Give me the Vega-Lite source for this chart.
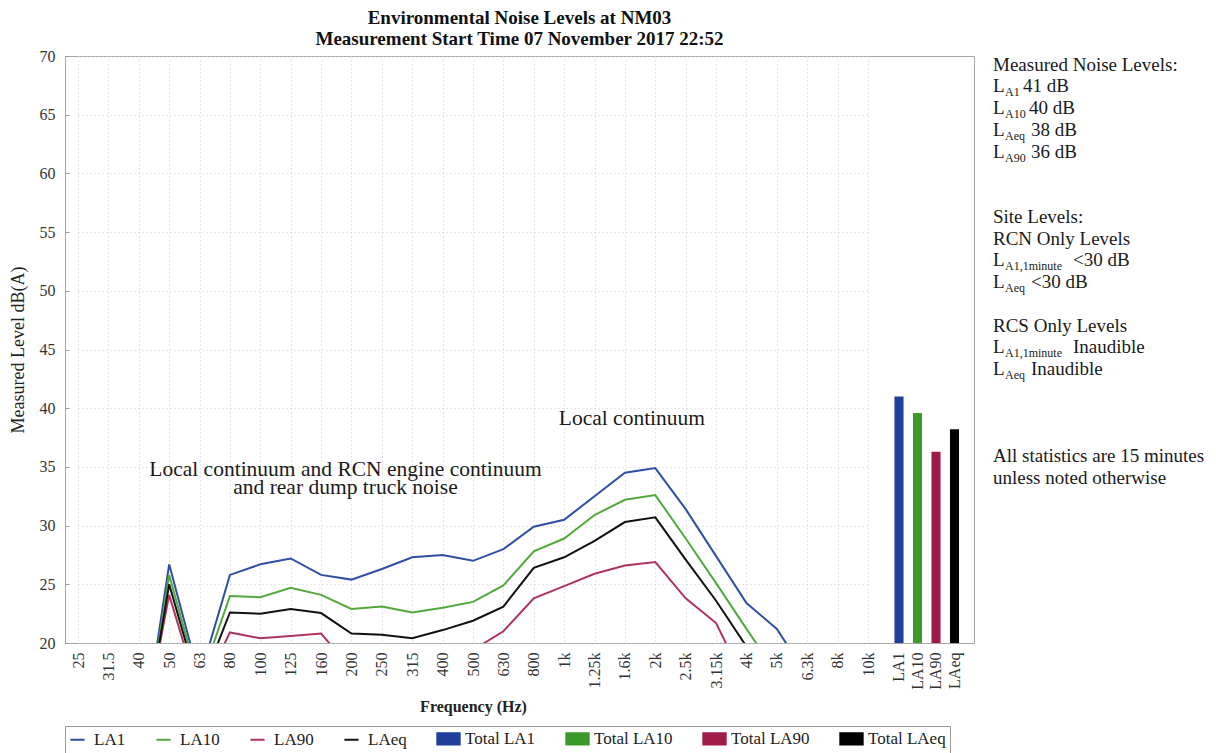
{
  "$schema": "https://vega.github.io/schema/vega-lite/v6.json",
  "background": "white",
  "padding": {"left": 8, "top": 8, "right": 0, "bottom": 0},
  "config": {
    "font": "Liberation Serif",
    "view": {"stroke": "#a6a6a6"},
    "concat": {"spacing": 18},
    "axis": {"labelFont": "Liberation Serif", "titleFont": "Liberation Serif", "labelColor": "#333333", "titleColor": "#222222", "domainColor": "#a6a6a6"},
    "legend": {"labelFont": "Liberation Serif"}
  },
  "datasets": {
    "lines": [
      {"band":"25","series":"LA1","level":10},{"band":"31.5","series":"LA1","level":9.5},{"band":"40","series":"LA1","level":9.5},{"band":"50","series":"LA1","level":26.7},{"band":"63","series":"LA1","level":17},{"band":"80","series":"LA1","level":25.8},{"band":"100","series":"LA1","level":26.7},{"band":"125","series":"LA1","level":27.2},{"band":"160","series":"LA1","level":25.8},{"band":"200","series":"LA1","level":25.4},{"band":"250","series":"LA1","level":26.3},{"band":"315","series":"LA1","level":27.3},{"band":"400","series":"LA1","level":27.5},{"band":"500","series":"LA1","level":27.0},{"band":"630","series":"LA1","level":28.0},{"band":"800","series":"LA1","level":29.9},{"band":"1k","series":"LA1","level":30.5},{"band":"1.25k","series":"LA1","level":32.5},{"band":"1.6k","series":"LA1","level":34.5},{"band":"2k","series":"LA1","level":34.9},{"band":"2.5k","series":"LA1","level":31.4},{"band":"3.15k","series":"LA1","level":27.4},{"band":"4k","series":"LA1","level":23.4},{"band":"5k","series":"LA1","level":21.2},{"band":"6.3k","series":"LA1","level":17.2},{"band":"8k","series":"LA1","level":15.5},{"band":"10k","series":"LA1","level":14},
      {"band":"25","series":"LA10","level":9.5},{"band":"31.5","series":"LA10","level":9},{"band":"40","series":"LA10","level":9},{"band":"50","series":"LA10","level":25.8},{"band":"63","series":"LA10","level":16.5},{"band":"80","series":"LA10","level":24.0},{"band":"100","series":"LA10","level":23.9},{"band":"125","series":"LA10","level":24.7},{"band":"160","series":"LA10","level":24.1},{"band":"200","series":"LA10","level":22.9},{"band":"250","series":"LA10","level":23.1},{"band":"315","series":"LA10","level":22.6},{"band":"400","series":"LA10","level":23.0},{"band":"500","series":"LA10","level":23.5},{"band":"630","series":"LA10","level":24.9},{"band":"800","series":"LA10","level":27.8},{"band":"1k","series":"LA10","level":28.9},{"band":"1.25k","series":"LA10","level":30.9},{"band":"1.6k","series":"LA10","level":32.2},{"band":"2k","series":"LA10","level":32.6},{"band":"2.5k","series":"LA10","level":28.9},{"band":"3.15k","series":"LA10","level":25.1},{"band":"4k","series":"LA10","level":21.2},{"band":"5k","series":"LA10","level":17.4},{"band":"6.3k","series":"LA10","level":15},{"band":"8k","series":"LA10","level":13.5},{"band":"10k","series":"LA10","level":12},
      {"band":"25","series":"LA90","level":9},{"band":"31.5","series":"LA90","level":8.5},{"band":"40","series":"LA90","level":10.5},{"band":"50","series":"LA90","level":24.1},{"band":"63","series":"LA90","level":15.5},{"band":"80","series":"LA90","level":20.9},{"band":"100","series":"LA90","level":20.4},{"band":"125","series":"LA90","level":20.6},{"band":"160","series":"LA90","level":20.8},{"band":"200","series":"LA90","level":17.8},{"band":"250","series":"LA90","level":17},{"band":"315","series":"LA90","level":17},{"band":"400","series":"LA90","level":18},{"band":"500","series":"LA90","level":19.4},{"band":"630","series":"LA90","level":21.0},{"band":"800","series":"LA90","level":23.8},{"band":"1k","series":"LA90","level":24.85},{"band":"1.25k","series":"LA90","level":25.9},{"band":"1.6k","series":"LA90","level":26.6},{"band":"2k","series":"LA90","level":26.9},{"band":"2.5k","series":"LA90","level":23.8},{"band":"3.15k","series":"LA90","level":21.7},{"band":"4k","series":"LA90","level":16.4},{"band":"5k","series":"LA90","level":14},{"band":"6.3k","series":"LA90","level":12.5},{"band":"8k","series":"LA90","level":11},{"band":"10k","series":"LA90","level":10},
      {"band":"25","series":"LAeq","level":9},{"band":"31.5","series":"LAeq","level":9},{"band":"40","series":"LAeq","level":9.5},{"band":"50","series":"LAeq","level":25.0},{"band":"63","series":"LAeq","level":16},{"band":"80","series":"LAeq","level":22.6},{"band":"100","series":"LAeq","level":22.5},{"band":"125","series":"LAeq","level":22.9},{"band":"160","series":"LAeq","level":22.55},{"band":"200","series":"LAeq","level":20.8},{"band":"250","series":"LAeq","level":20.7},{"band":"315","series":"LAeq","level":20.4},{"band":"400","series":"LAeq","level":21.1},{"band":"500","series":"LAeq","level":21.9},{"band":"630","series":"LAeq","level":23.1},{"band":"800","series":"LAeq","level":26.4},{"band":"1k","series":"LAeq","level":27.3},{"band":"1.25k","series":"LAeq","level":28.7},{"band":"1.6k","series":"LAeq","level":30.3},{"band":"2k","series":"LAeq","level":30.7},{"band":"2.5k","series":"LAeq","level":27.1},{"band":"3.15k","series":"LAeq","level":23.6},{"band":"4k","series":"LAeq","level":19.7},{"band":"5k","series":"LAeq","level":16.5},{"band":"6.3k","series":"LAeq","level":14},{"band":"8k","series":"LAeq","level":12.5},{"band":"10k","series":"LAeq","level":11}
    ],
    "bars": [
      {"stat":"LA1","series":"Total LA1","level":41.0},
      {"stat":"LA10","series":"Total LA10","level":39.6},
      {"stat":"LA90","series":"Total LA90","level":36.3},
      {"stat":"LAeq","series":"Total LAeq","level":38.2}
    ],
    "notes": [
      {"band":"200","level":34.7,"text":"Local continuum and RCN engine continuum"},
      {"band":"200","level":33.2,"text":"and rear dump truck noise"}
    ],
    "notes2": [
      {"band":"1.6k","level":39.1,"text":"Local continuum"}
    ],
    "side": [
      {"line":0,"lead":"Measured Noise Levels:"},
      {"line":1,"lead":"L","sub":"A1","rest":"41 dB"},
      {"line":2,"lead":"L","sub":"A10","rest":"40 dB"},
      {"line":3,"lead":"L","sub":"Aeq","rest":"38 dB"},
      {"line":4,"lead":"L","sub":"A90","rest":"36 dB"},
      {"line":7,"lead":"Site Levels:"},
      {"line":8,"lead":"RCN Only Levels"},
      {"line":9,"lead":"L","sub":"A1,1minute","rest":"<30 dB"},
      {"line":10,"lead":"L","sub":"Aeq","rest":"<30 dB"},
      {"line":12,"lead":"RCS Only Levels"},
      {"line":13,"lead":"L","sub":"A1,1minute","rest":"Inaudible"},
      {"line":14,"lead":"L","sub":"Aeq","rest":"Inaudible"},
      {"line":18,"lead":"All statistics are 15 minutes"},
      {"line":19,"lead":"unless noted otherwise"}
    ]
  },
  "resolve": {"scale": {"color": "independent"}},
  "hconcat": [
    {
      "width": 909,
      "height": 587,
      "title": {
        "text": ["Environmental Noise Levels at NM03", "Measurement Start Time 07 November 2017 22:52"],
        "anchor": "middle", "frame": "group", "font": "Liberation Serif", "fontSize": 19, "fontWeight": "bold", "lineHeight": 21, "offset": -1, "color": "#111111"
      },
      "layer": [
        {
          "layer": [
            {
              "data": {"name": "lines"},
              "mark": {"type": "line", "strokeWidth": 2, "clip": true},
              "encoding": {
                "x": {
                  "field": "band", "type": "ordinal",
                  "scale": {"type": "point", "domain": ["25","31.5","40","50","63","80","100","125","160","200","250","315","400","500","630","800","1k","1.25k","1.6k","2k","2.5k","3.15k","4k","5k","6.3k","8k","10k"], "range": [13, 803], "padding": 0},
                  "axis": {"orient": "bottom", "labelAngle": -90, "labelFontSize": 16, "labelPadding": 9, "ticks": false, "domain": false, "grid": true, "gridColor": "#cccccc", "gridDash": [1, 3], "title": "Frequency (Hz)", "titleFontSize": 16, "titleFontWeight": "bold", "titlePadding": 10}
                },
                "y": {
                  "field": "level", "type": "quantitative",
                  "scale": {"domain": [20, 70], "nice": false, "zero": false},
                  "axis": {
                    "values": [20,25,30,35,40,45,50,55,60,65,70],
                    "labelOverlap": false,
                    "labelFontSize": 16, "labelPadding": 14, "tickSize": -4, "tickColor": "#999999",
                    "gridColor": "#cfcfcf", "gridDash": [1, 3],
                    "title": "Measured Level dB(A)", "titleFontSize": 18, "titleFontWeight": "normal", "titlePadding": 12
                  }
                },
                "color": {
                  "field": "series", "type": "nominal",
                  "scale": {
                    "domain": ["LA1","LA10","LA90","LAeq","Total LA1","Total LA10","Total LA90","Total LAeq"],
                    "range": ["#2e4fa3","#52a83c","#b0335e","#111111","#1f3f9a","#3b9a2a","#9e1c47","#000000"]
                  },
                  "legend": {
                    "orient": "bottom", "direction": "horizontal", "title": null, "labelFontSize": 17, "labelColor": "#222222",
                    "strokeColor": "#999999", "padding": 4, "columnPadding": 26, "labelOffset": 8, "offset": 12, "symbolSize": 500,
                    "encode": {"symbols": {"update": {
                      "shape": {"signal": "(datum.value === 'Total LA1' || datum.value === 'Total LA10' || datum.value === 'Total LA90' || datum.value === 'Total LAeq') ? 'M-1,-0.5H1V0.5H-1Z' : 'stroke'"},
                      "size": {"signal": "(datum.value === 'Total LA1' || datum.value === 'Total LA10' || datum.value === 'Total LA90' || datum.value === 'Total LAeq') ? 500 : 200"},
                      "fill": {"signal": "datum.value === 'Total LA1' ? '#1f3f9a' : datum.value === 'Total LA10' ? '#3b9a2a' : datum.value === 'Total LA90' ? '#9e1c47' : datum.value === 'Total LAeq' ? '#000000' : 'transparent'"},
                      "stroke": {"signal": "datum.value === 'LA1' ? '#2e4fa3' : datum.value === 'LA10' ? '#52a83c' : datum.value === 'LA90' ? '#b0335e' : datum.value === 'LAeq' ? '#111111' : 'transparent'"},
                      "strokeWidth": {"value": 2}
                    }}}
                  }
                },
                "order": {"value": null}
              }
            },
            {
              "data": {"name": "notes"},
              "mark": {"type": "text", "align": "center", "baseline": "middle", "fontSize": 21.5, "dx": -6, "color": "#1a1a1a"},
              "encoding": {
                "x": {"field": "band", "type": "ordinal"},
                "y": {"field": "level", "type": "quantitative"},
                "text": {"field": "text"}
              }
            },
            {
              "data": {"name": "notes2"},
              "mark": {"type": "text", "align": "center", "baseline": "middle", "fontSize": 21.5, "dx": 7, "color": "#1a1a1a"},
              "encoding": {
                "x": {"field": "band", "type": "ordinal"},
                "y": {"field": "level", "type": "quantitative"},
                "text": {"field": "text"}
              }
            }
          ]
        },
        {
          "data": {"name": "bars"},
          "mark": {"type": "bar", "clip": true},
          "encoding": {
            "x": {
              "field": "stat", "type": "nominal",
              "scale": {"type": "band", "domain": ["LA1","LA10","LA90","LAeq"], "range": [824.75, 898.75], "paddingInner": 0.51, "paddingOuter": 0.255},
              "axis": {"orient": "bottom", "labelAngle": -90, "labelFontSize": 16, "labelPadding": 9, "ticks": false, "domain": false, "grid": false, "title": null}
            },
            "y": {
              "field": "level", "type": "quantitative",
              "axis": {
                "values": [20,25,30,35,40,45,50,55,60,65,70],
                "labelOverlap": false,
                "labelFontSize": 16, "labelPadding": 14, "tickSize": -4, "tickColor": "#999999",
                "gridColor": "#cfcfcf", "gridDash": [1, 3],
                "title": "Measured Level dB(A)", "titleFontSize": 18, "titleFontWeight": "normal", "titlePadding": 12
              }
            },
            "color": {"field": "series", "type": "nominal"}
          }
        }
      ],
      "resolve": {"scale": {"x": "independent"}, "axis": {"x": "independent"}}
    },
    {
      "width": 215,
      "height": 587,
      "view": {"stroke": null},
      "data": {"name": "side"},
      "encoding": {
        "y": {"field": "line", "type": "quantitative", "scale": {"domain": [-0.4, 26.6], "reverse": true}, "axis": null},
        "x": {"value": 0}
      },
      "layer": [
        {
          "mark": {"type": "text", "align": "left", "baseline": "middle", "fontSize": 19, "color": "#1a1a1a"},
          "encoding": {"text": {"field": "lead"}}
        },
        {
          "transform": [{"filter": "datum.sub"}],
          "mark": {"type": "text", "align": "left", "baseline": "middle", "fontSize": 12, "dx": 12, "dy": 6, "color": "#1a1a1a"},
          "encoding": {"text": {"field": "sub"}}
        },
        {
          "transform": [{"filter": "datum.sub === 'A1'"}],
          "mark": {"type": "text", "align": "left", "baseline": "middle", "fontSize": 19, "dx": 30, "color": "#1a1a1a"},
          "encoding": {"text": {"field": "rest"}}
        },
        {
          "transform": [{"filter": "datum.sub === 'A10'"}],
          "mark": {"type": "text", "align": "left", "baseline": "middle", "fontSize": 19, "dx": 36, "color": "#1a1a1a"},
          "encoding": {"text": {"field": "rest"}}
        },
        {
          "transform": [{"filter": "datum.sub === 'Aeq' || datum.sub === 'A90'"}],
          "mark": {"type": "text", "align": "left", "baseline": "middle", "fontSize": 19, "dx": 38, "color": "#1a1a1a"},
          "encoding": {"text": {"field": "rest"}}
        },
        {
          "transform": [{"filter": "datum.sub === 'A1,1minute'"}],
          "mark": {"type": "text", "align": "left", "baseline": "middle", "fontSize": 19, "dx": 80, "color": "#1a1a1a"},
          "encoding": {"text": {"field": "rest"}}
        }
      ]
    }
  ]
}
